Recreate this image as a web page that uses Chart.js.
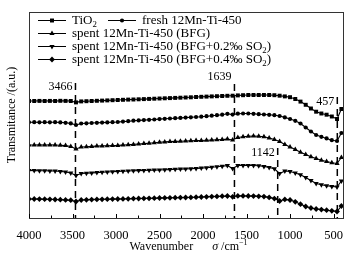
<!DOCTYPE html>
<html>
<head>
<meta charset="utf-8">
<script src="https://cdn.jsdelivr.net/npm/chart.js@4.4.1/dist/chart.umd.min.js"></script>
<style>
    html, body { margin: 0; padding: 0; background: #fff; }
</style>
</head>
<body>
<canvas id="ftir01" width="358" height="253"></canvas>
<script>
// spectra (wavenumber in cm-1, transmittance in arbitrary units)
const wavenumbers = [4000, 3940, 3880, 3820, 3760, 3700, 3640, 3580, 3520, 3460,
    3400, 3340, 3280, 3220, 3160, 3100, 3040, 2980, 2920, 2860,
    2800, 2740, 2680, 2620, 2560, 2500, 2440, 2380, 2320, 2260,
    2200, 2140, 2080, 2020, 1960, 1900, 1840, 1780, 1720, 1660,
    1600, 1540, 1480, 1420, 1360, 1300, 1240, 1180, 1120, 1060,
    1000, 940, 880, 820, 760, 700, 640, 580, 520, 460, 410];

const tio2 = [117.0, 117.0, 117.1, 117.0, 117.1, 117.0, 117.2, 117.1, 117.0, 115.6,
    116.6, 116.8, 117.0, 117.2, 117.4, 117.6, 117.8, 118.0, 118.2, 118.4,
    118.5, 118.7, 118.9, 119.1, 119.3, 119.5, 119.7, 119.9, 120.1, 120.3,
    120.5, 120.7, 121.0, 121.2, 121.4, 121.6, 121.8, 122.0, 122.2, 122.3,
    122.6, 122.8, 123.0, 123.0, 123.0, 123.0, 123.0, 122.8, 122.3, 121.6,
    120.8, 119.0, 116.4, 113.2, 109.5, 106.3, 104.5, 103.3, 101.5, 99.0, 109.0];

const fresh = [95.7, 95.8, 95.7, 95.8, 95.7, 95.8, 95.6, 95.2, 94.6, 93.0,
    94.5, 94.7, 95.0, 95.2, 95.4, 95.6, 95.8, 96.0, 96.4, 96.8,
    97.3, 97.6, 97.9, 98.2, 98.5, 98.9, 99.2, 99.5, 99.8, 100.1,
    100.4, 100.7, 101.0, 101.3, 101.8, 102.3, 102.8, 103.3, 104.2, 103.4,
    104.3, 104.5, 104.5, 104.2, 103.8, 103.5, 103.2, 102.8, 102.0, 100.6,
    99.0, 97.2, 94.5, 90.5, 86.5, 83.0, 81.2, 79.6, 77.8, 77.0, 85.0];

const spentBfg = [73.0, 73.0, 73.1, 73.0, 73.1, 73.0, 72.8, 72.4, 71.5, 69.0,
    71.0, 71.3, 71.6, 71.9, 72.1, 72.3, 72.5, 72.6, 72.9, 73.2,
    73.6, 74.0, 74.4, 74.8, 75.3, 75.8, 76.1, 76.4, 76.6, 76.8,
    77.0, 77.2, 77.4, 77.5, 77.7, 77.9, 78.2, 78.5, 78.9, 78.0,
    80.5, 81.2, 81.7, 82.0, 81.8, 81.3, 80.0, 78.5, 76.5, 73.5,
    71.0, 68.5, 65.8, 63.5, 61.3, 59.5, 57.7, 56.5, 55.2, 54.5, 60.5];

const spentSo2Low = [47.5, 47.4, 47.3, 47.2, 47.1, 47.0, 46.6, 46.0, 45.0, 42.5,
    44.5, 44.8, 45.1, 45.4, 45.7, 46.0, 46.3, 46.6, 46.8, 47.0,
    47.2, 47.4, 47.6, 47.8, 47.9, 48.0, 48.2, 48.4, 48.7, 48.9,
    49.1, 49.3, 49.6, 49.9, 50.3, 50.8, 51.3, 51.8, 52.4, 49.5,
    52.5, 52.6, 52.6, 52.5, 52.3, 51.6, 50.6, 49.2, 44.5, 47.0,
    46.5, 45.0, 43.2, 40.5, 37.5, 34.5, 33.2, 32.2, 31.6, 31.0, 37.0];

const spentSo2High = [19.0, 19.0, 18.9, 18.8, 18.7, 18.5, 18.3, 18.1, 17.8, 16.5,
    18.0, 18.2, 18.4, 18.6, 18.7, 18.8, 18.9, 19.0, 19.1, 19.2,
    19.4, 19.5, 19.6, 19.7, 19.8, 20.0, 20.1, 20.2, 20.3, 20.4,
    20.5, 20.6, 20.8, 21.0, 21.2, 21.4, 21.6, 21.8, 22.0, 21.2,
    22.1, 22.1, 22.0, 21.9, 21.7, 21.4, 20.6, 19.4, 17.0, 18.6,
    18.0, 16.2, 13.8, 11.5, 10.0, 9.0, 8.4, 7.8, 7.2, 6.5, 12.0];

const seriesNames = ['TiO₂', 'fresh 12Mn-Ti-450', 'spent 12Mn-Ti-450 (BFG)',
    'spent 12Mn-Ti-450 (BFG+0.2‰ SO₂)', 'spent 12Mn-Ti-450 (BFG+0.4‰ SO₂)'];

// marked bands: position, upper end of the dashed line, label
const peakPositions = [3466, 1639, 1142, 457];
const peakTops = [135, 134, 70, 121];
const peakLabels = ['3466', '1639', '1142', '457'];

const xTickValues = [4000, 3750, 3500, 3250, 3000, 2750, 2500, 2250, 2000,
    1750, 1500, 1250, 1000, 750, 500];

// ---------------- styles ----------------
const FONT = '"Liberation Serif", "Times New Roman", serif';
const INK = '#000';
const markerStyles = [
    { pointStyle: 'rect', radius: 2.8, rotation: 0 },
    { pointStyle: 'circle', radius: 2.1, rotation: 0 },
    { pointStyle: 'triangle', radius: 3.0, rotation: 0 },
    { pointStyle: 'triangle', radius: 3.0, rotation: 180 },
    { pointStyle: 'rectRot', radius: 2.9, rotation: 0 },
];
// legend slots, offsets from chart area top-left
const legendSlots = [[9, 8], [79, 8], [9, 21], [9, 34], [9, 47]];
const peakLabelDy = [4, -7, 5, 5];

function drawMarker(ctx, m, x, y) {
    const r = m.radius;
    ctx.beginPath();
    if (m.pointStyle === 'rect') {
        const s = r * Math.SQRT1_2;
        ctx.rect(x - s, y - s, 2 * s, 2 * s);
    } else if (m.pointStyle === 'circle') {
        ctx.arc(x, y, r, 0, Math.PI * 2);
    } else if (m.pointStyle === 'rectRot') {
        ctx.moveTo(x, y - r);
        ctx.lineTo(x + r, y);
        ctx.lineTo(x, y + r);
        ctx.lineTo(x - r, y);
        ctx.closePath();
    } else {
        const d = m.rotation ? -1 : 1;
        ctx.moveTo(x, y - d * r);
        ctx.lineTo(x + r * 0.866, y + d * r * 0.5);
        ctx.lineTo(x - r * 0.866, y + d * r * 0.5);
        ctx.closePath();
    }
    ctx.fill();
}

// text with the subscript two drawn small and lowered
function drawRich(ctx, text, x, y, size) {
    let cx = x;
    for (const part of text.split(/(₂)/)) {
        if (!part) continue;
        if (part === '₂') {
            ctx.font = `${size * 0.68}px ${FONT}`;
            ctx.fillText('2', cx, y + size * 0.3);
            cx += ctx.measureText('2').width;
        } else {
            ctx.font = `${size}px ${FONT}`;
            ctx.fillText(part, cx, y);
            cx += ctx.measureText(part).width;
        }
    }
}

const spectraDecor = {
    id: 'spectraDecor',
    afterDraw(chart) {
        const { ctx, chartArea: area, scales: { x, y } } = chart;
        ctx.save();
        ctx.fillStyle = INK;

        // frame
        ctx.lineWidth = 1;
        ctx.strokeStyle = '#333';
        ctx.strokeRect(area.left + 0.5, area.top + 0.5, area.right - area.left - 1, area.bottom - area.top);

        // inward ticks
        ctx.strokeStyle = INK;
        ctx.beginPath();
        x.ticks.forEach((t) => {
            const px = Math.round(x.getPixelForValue(t.value)) + 0.5;
            const len = t.value % 500 === 0 ? 4 : 2.5;
            ctx.moveTo(px, area.bottom);
            ctx.lineTo(px, area.bottom - len);
        });
        ctx.stroke();

        // band labels
        ctx.font = `12px ${FONT}`;
        ctx.textAlign = 'right';
        ctx.textBaseline = 'middle';
        peakLabels.forEach((lab, i) => {
            const px = x.getPixelForValue(peakPositions[i]);
            const py = y.getPixelForValue(peakTops[i]);
            ctx.fillText(lab, px - 3, py + peakLabelDy[i]);
        });

        // legend
        ctx.textAlign = 'left';
        seriesNames.forEach((name, i) => {
            const lx = area.left + legendSlots[i][0];
            const ly = area.top + legendSlots[i][1];
            ctx.lineWidth = 1;
            ctx.beginPath();
            ctx.moveTo(lx, ly + 0.5);
            ctx.lineTo(lx + 28, ly + 0.5);
            ctx.stroke();
            drawMarker(ctx, markerStyles[i], lx + 14, ly + 0.5);
            drawRich(ctx, name, lx + 34, ly + 1, 13);
        });

        // x axis title: Wavenumber   σ /cm-1
        const ty = 246.5;
        ctx.font = `12px ${FONT}`;
        const w1 = ctx.measureText('Wavenumber').width;
        const gap = 19;
        ctx.font = `italic 12px ${FONT}`;
        const w2 = ctx.measureText('σ').width;
        ctx.font = `12px ${FONT}`;
        const w3 = ctx.measureText(' /cm').width;
        ctx.font = `8px ${FONT}`;
        const w4 = ctx.measureText('−1').width;
        let tx = (area.left + area.right) / 2 + 2 - (w1 + gap + w2 + w3 + w4) / 2;
        ctx.font = `12px ${FONT}`;
        ctx.fillText('Wavenumber', tx, ty);
        tx += w1 + gap;
        ctx.font = `italic 12px ${FONT}`;
        ctx.fillText('σ', tx, ty);
        tx += w2;
        ctx.font = `12px ${FONT}`;
        ctx.fillText(' /cm', tx, ty);
        tx += w3;
        ctx.font = `8px ${FONT}`;
        ctx.fillText('−1', tx, ty - 4);
        ctx.restore();
    },
};

const seriesValues = [tio2, fresh, spentBfg, spentSo2Low, spentSo2High];
const datasets = seriesValues.map((vals, i) => ({
    label: seriesNames[i],
    data: wavenumbers.map((w, k) => ({ x: w, y: vals[k] })),
    borderColor: INK,
    backgroundColor: INK,
    borderWidth: 1.1,
    pointStyle: markerStyles[i].pointStyle,
    pointRadius: markerStyles[i].radius,
    pointRotation: markerStyles[i].rotation,
    pointBorderWidth: 0,
    tension: 0,
}));
peakPositions.forEach((p, i) => {
    datasets.push({
        label: `band ${peakLabels[i]}`,
        data: [{ x: p, y: peakTops[i] }, { x: p, y: 0 }],
        borderColor: INK,
        borderWidth: 1.5,
        borderDash: [7, 5],
        pointRadius: 0,
    });
});

const ctx = document.getElementById('ftir01').getContext('2d');
const chart = new Chart(ctx, {
    type: 'line',
    data: { datasets },
    options: {
        responsive: false,
        animation: false,
        events: [],
        layout: { padding: { top: 12, right: 14, left: 0, bottom: 0 } },
        plugins: {
            legend: { display: false },
            tooltip: { enabled: false },
        },
        scales: {
            x: {
                type: 'linear',
                reverse: true,
                min: 380,
                max: 4000,
                afterBuildTicks(axis) {
                    axis.ticks = xTickValues.map(v => ({ value: v }));
                },
                afterFit(axis) {
                    axis.height = 35;
                },
                grid: { display: false },
                border: { display: false },
                ticks: {
                    autoSkip: false,
                    maxRotation: 0,
                    minRotation: 0,
                    padding: 2,
                    color: INK,
                    font: { family: FONT, size: 12.5 },
                    callback(value) {
                        return value % 500 === 0 ? String(value) : '';
                    },
                },
            },
            y: {
                type: 'linear',
                min: 0,
                max: 206,
                afterFit(axis) {
                    axis.width = 29;
                },
                grid: { display: false },
                border: { display: false },
                ticks: { display: false },
                title: {
                    display: true,
                    text: 'Transmitance /(a.u.)',
                    color: INK,
                    font: { family: FONT, size: 12 },
                    padding: { top: 5, bottom: 0 },
                },
            },
        },
    },
    plugins: [spectraDecor],
});
</script>
</body>
</html>
